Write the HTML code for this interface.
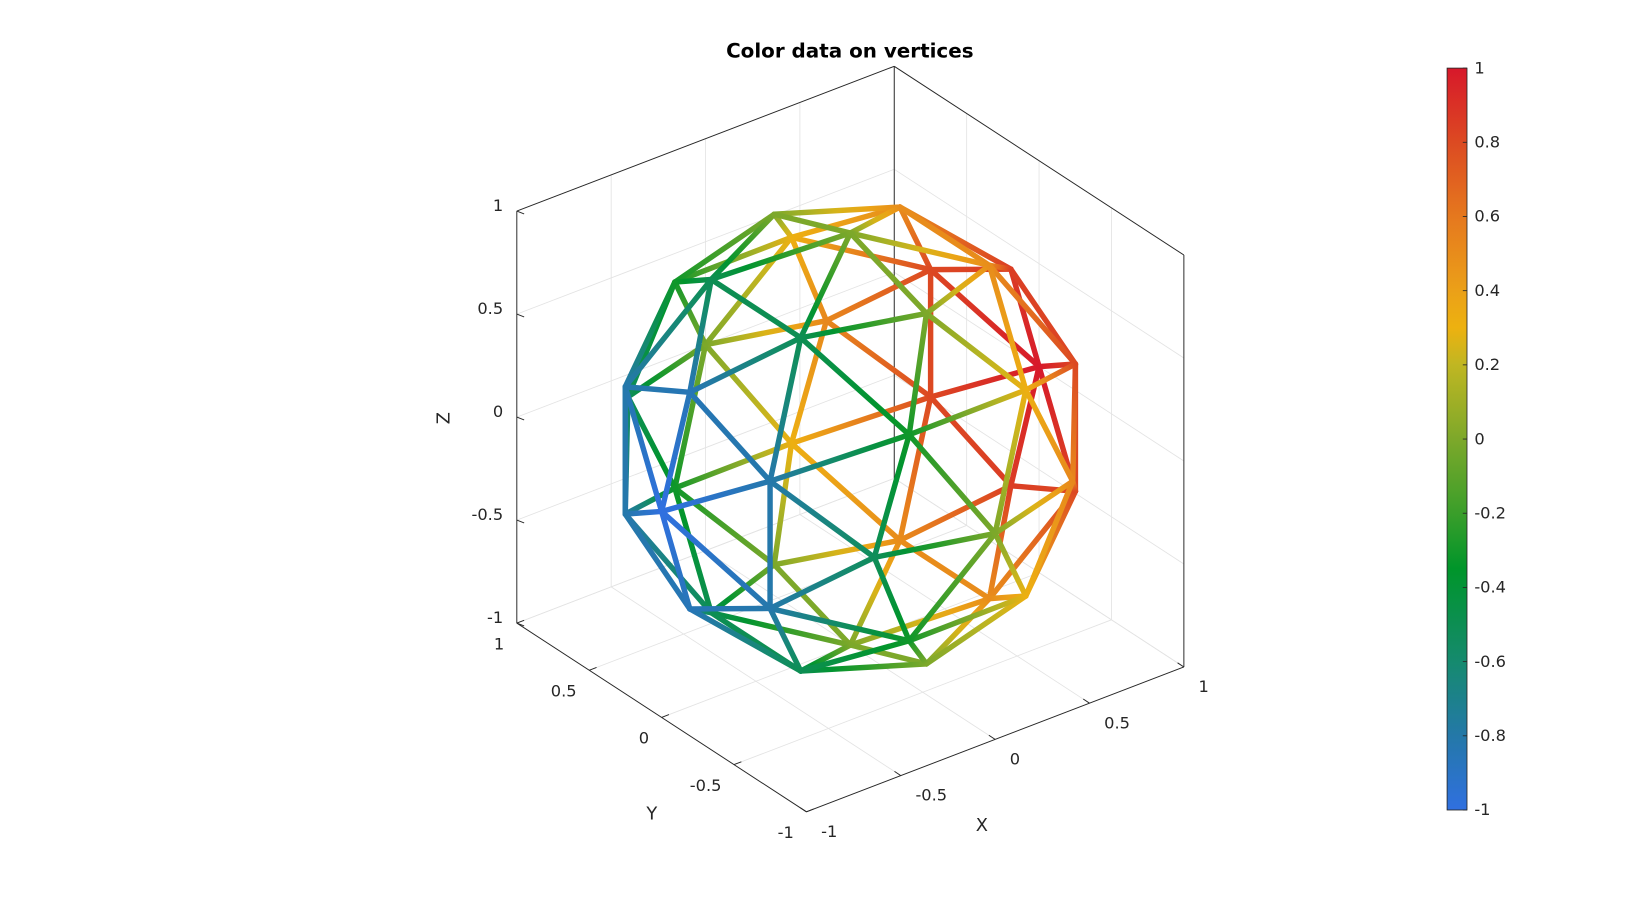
<!DOCTYPE html>
<html><head><meta charset="utf-8"><style>
html,body{margin:0;padding:0;background:#fff;}
svg{display:block;font-family:"DejaVu Sans","Liberation Sans",sans-serif;}
</style></head><body>
<svg id="chart" width="1642" height="911" viewBox="0 0 1567 869.4" xmlns="http://www.w3.org/2000/svg">
<defs id="defs"></defs>
<g id="grid"></g>
<g id="box"></g>
<g id="mesh"></g>
<g id="labels" font-size="15.5" fill="#262626"></g>
<text x="811" y="55" text-anchor="middle" font-size="19" font-weight="bold" fill="#000">Color data on vertices</text>
<text x="429" y="399" text-anchor="middle" font-size="17" fill="#262626" transform="rotate(-90 429 399)">Z</text>
<text x="622" y="782" text-anchor="middle" font-size="17" fill="#262626">Y</text>
<text x="937" y="793" text-anchor="middle" font-size="17" fill="#262626">X</text>
<g id="cbar"></g>
</svg>
<script>
const tickValues = [-1, -0.5, 0, 0.5, 1];
const tickLabels = ["-1", "-0.5", "0", "0.5", "1"];
const cbarTicks = [-1, -0.8, -0.6, -0.4, -0.2, 0, 0.2, 0.4, 0.6, 0.8, 1];
const cbarLabels = ["-1", "-0.8", "-0.6", "-0.4", "-0.2", "0", "0.2", "0.4", "0.6", "0.8", "1"];
const cmapPos = [-1, -0.8, -0.6, -0.35, -0.2, 0, 0.2, 0.3, 0.4, 0.6, 0.8, 1];
const cmapCol = ["#3070E0", "#2478A8", "#158A6E", "#00952A", "#3A9E2A", "#7DA82A", "#C0B622", "#EDB110", "#EBA018", "#E5781E", "#DC4A22", "#D7182A"];
const gr = 1.618034;
const baseVerts = [[-1,gr,0],[1,gr,0],[-1,-gr,0],[1,-gr,0],[0,-1,gr],[0,1,gr],[0,-1,-gr],[0,1,-gr],[gr,0,-1],[gr,0,1],[-gr,0,-1],[-gr,0,1]];

const NS = "http://www.w3.org/2000/svg";
const cx = 811.5, cy = 419, S = 227;
const ca = 0.7934, sa = 0.6088, ce = 0.866, se = 0.5;
function P(x,y,z){ return [cx + S*(ca*x - sa*y), cy - S*(ce*z + se*(sa*x + ca*y))]; }
function depth(x,y,z){ return -0.527*x - 0.687*y + 0.5*z; }
function hex2rgb(h){ return [1,3,5].map(i=>parseInt(h.substr(i,2),16)); }
function cmap(v){
  v=Math.max(-1,Math.min(1,v));
  for(let i=0;i<cmapPos.length-1;i++){
    if(v<=cmapPos[i+1]){
      const t=(v-cmapPos[i])/(cmapPos[i+1]-cmapPos[i]);
      const a=hex2rgb(cmapCol[i]), b=hex2rgb(cmapCol[i+1]);
      return "rgb("+a.map((c,k)=>Math.round(c+(b[k]-c)*t)).join(",")+")";
    }
  }
  return cmapCol[cmapCol.length-1];
}
function mk(tag, attrs, parent){ const e=document.createElementNS(NS,tag); for(const k in attrs) e.setAttribute(k,attrs[k]); parent.appendChild(e); return e; }

const grid=document.getElementById('grid');
function gline(a,b){
  const p=P(...a), q=P(...b);
  const l=mk('line',{x1:p[0],y1:p[1],x2:q[0],y2:q[1],stroke:'#e3e3e3','stroke-width':0.8},grid);
  
  
}
tickValues.forEach(t=>{
  gline([t,1,-1],[t,1,1]); gline([-1,1,t],[1,1,t]);
  gline([1,t,-1],[1,t,1]); gline([1,-1,t],[1,1,t]);
  gline([t,-1,-1],[t,1,-1]); gline([-1,t,-1],[1,t,-1]);
});
const box=document.getElementById('box');
function bline(a,b,name){
  const p=P(...a), q=P(...b);
  const l=mk('line',{x1:p[0],y1:p[1],x2:q[0],y2:q[1],stroke:'#262626','stroke-width':0.9},box);
  
  
}
bline([-1,1,-1],[-1,1,1],'z-axis-line');
bline([-1,1,1],[1,1,1],'box-edge');
bline([1,1,1],[1,-1,1],'box-edge');
bline([1,1,1],[1,1,-1],'box-edge');
bline([1,-1,1],[1,-1,-1],'box-edge');
bline([-1,1,-1],[-1,-1,-1],'y-axis-line');
bline([-1,-1,-1],[1,-1,-1],'x-axis-line');
const labels=document.getElementById('labels');
tickValues.forEach((t,i)=>{
  let p=P(-1,1,t);
  let tk=mk('line',{x1:p[0],y1:p[1],x2:p[0]+7,y2:p[1]+2.7,stroke:'#262626','stroke-width':0.9},box);
   
  let tx=mk('text',{x:p[0]-13,y:p[1]+0,'text-anchor':'end'},labels); tx.textContent=tickLabels[i];
   
  p=P(-1,t,-1);
  tk=mk('line',{x1:p[0],y1:p[1],x2:p[0]+7,y2:p[1]-2.7,stroke:'#262626','stroke-width':0.9},box);
   
  tx=mk('text',{x:p[0]-12,y:p[1]+25,'text-anchor':'end'},labels); tx.textContent=tickLabels[i];
   
  p=P(t,-1,-1);
  tk=mk('line',{x1:p[0],y1:p[1],x2:p[0]-6,y2:p[1]-4,stroke:'#262626','stroke-width':0.9},box);
   
  tx=mk('text',{x:p[0]+14,y:p[1]+24,'text-anchor':'start'},labels); tx.textContent=tickLabels[i];
   
});

let verts=baseVerts.map(v=>{const n=Math.hypot(...v); return v.map(c=>c/n);});
const faces=[];
for(let a=0;a<12;a++)for(let b=a+1;b<12;b++)for(let c=b+1;c<12;c++){
  const d=(i,j)=>Math.hypot(...baseVerts[i].map((x,k)=>x-baseVerts[j][k]));
  if(Math.abs(d(a,b)-2)<1e-3&&Math.abs(d(b,c)-2)<1e-3&&Math.abs(d(a,c)-2)<1e-3) faces.push([a,b,c]);
}
const midCache={};
function mid(a,b){
  const key=a<b?a+'_'+b:b+'_'+a;
  if(midCache[key]!==undefined) return midCache[key];
  const m=verts[a].map((c,k)=>c+verts[b][k]); const n=Math.hypot(...m);
  verts.push(m.map(c=>c/n)); midCache[key]=verts.length-1; return midCache[key];
}
const edgeSet={}, edges=[];
function addE(a,b){const k=a<b?a+'_'+b:b+'_'+a; if(!edgeSet[k]){edgeSet[k]=1;edges.push([a,b]);}}
faces.forEach(([a,b,c])=>{
  const ab=mid(a,b), bc=mid(b,c), cA=mid(c,a);
  addE(a,ab);addE(ab,b);addE(b,bc);addE(bc,c);addE(c,cA);addE(cA,a);
  addE(ab,bc);addE(bc,cA);addE(cA,ab);
});
const vertexColorData = verts.map(v=>v[0]);
edges.sort((e1,e2)=>{
  const d1=depth(...verts[e1[0]])+depth(...verts[e1[1]]);
  const d2=depth(...verts[e2[0]])+depth(...verts[e2[1]]);
  return d1-d2;
});
const defs=document.getElementById('defs'), mesh=document.getElementById('mesh');
edges.forEach(([a,b],i)=>{
  const p=P(...verts[a]), q=P(...verts[b]);
  const g=mk('linearGradient',{id:'g'+i,gradientUnits:'userSpaceOnUse',x1:p[0],y1:p[1],x2:q[0],y2:q[1]},defs);
  for(let s=0;s<=4;s++){
    const t=s/4, v=vertexColorData[a]+(vertexColorData[b]-vertexColorData[a])*t;
    mk('stop',{offset:t,'stop-color':cmap(v)},g);
  }
  const l=mk('line',{x1:p[0],y1:p[1],x2:q[0],y2:q[1],stroke:'url(#g'+i+')','stroke-width':5.2,'stroke-linecap':'round'},mesh);
  
  
});

const cb=document.getElementById('cbar');
const cbx=1381, cbw=19, cbTop=65, cbBot=773;
const cg=mk('linearGradient',{id:'cbg',x1:0,y1:1,x2:0,y2:0},defs);
for(let s=0;s<=40;s++){ const v=-1+s/20; mk('stop',{offset:s/40,'stop-color':cmap(v)},cg); }
const rect=mk('rect',{x:cbx,y:cbTop,width:cbw,height:cbBot-cbTop,fill:'url(#cbg)',stroke:'#262626','stroke-width':0.8},cb);


cbarTicks.forEach((v,i)=>{
  const y=cbBot-(v+1)/2*(cbBot-cbTop);
  const t=mk('line',{x1:cbx+cbw-4,y1:y,x2:cbx+cbw,y2:y,stroke:'#262626','stroke-width':0.8},cb);
   
  const tx=mk('text',{x:cbx+cbw+7,y:y+5,'font-size':15.5,fill:'#262626'},cb);
  tx.textContent=cbarLabels[i];
   
});
</script>
</body></html>
